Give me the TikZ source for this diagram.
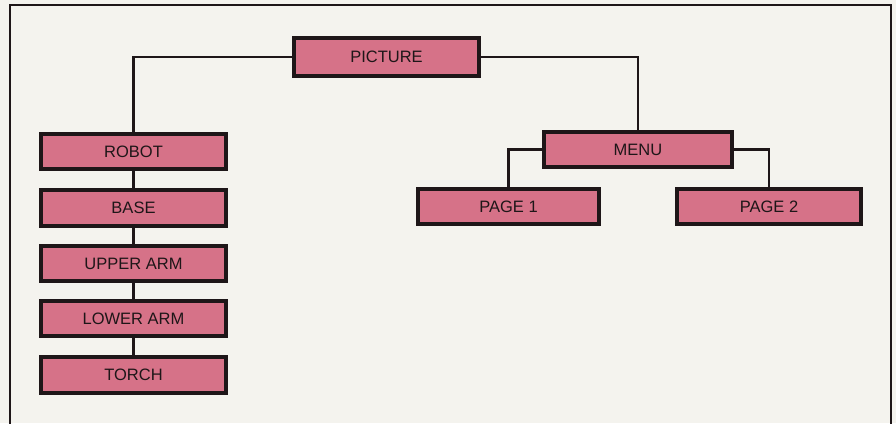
\documentclass[tikz,border=0pt]{standalone}
\usepackage{fontspec}
\setmainfont{Liberation Sans}
\definecolor{boxfill}{RGB}{214,114,136}
\definecolor{paper}{RGB}{244,243,238}
\definecolor{ink}{RGB}{30,22,24}
\begin{document}
\begin{tikzpicture}[x=1pt,y=-1pt,
  blk/.style={draw=ink,line width=3.4pt,fill=boxfill,inner sep=0pt,font=\fontsize{16.5}{19}\selectfont,text=ink},
  link/.style={draw=ink,line width=2.2pt}]
\fill[paper] (0,0) rectangle (896,423);
\useasboundingbox (0,0) rectangle (896,423);
\draw[ink,line width=1.2pt] (10,430) -- (10,5) -- (891,5) -- (891,430);
\newcommand\blkbox[6]{\node[blk,minimum width=#4-#2-2,minimum height=#5-#3-2] (#1) at ({(#2+#4)/2},{(#3+#5)/2}) {#6};}
\blkbox{picture}{293}{37}{480}{77}{PICTURE}
\blkbox{robot}{40}{133}{227}{170}{ROBOT}
\blkbox{base}{40}{189}{227}{227}{BASE}
\blkbox{upper}{40}{245}{227}{282}{UPPER ARM}
\blkbox{lower}{40}{300}{227}{337}{LOWER ARM}
\blkbox{torch}{40}{356}{227}{394}{TORCH}
\blkbox{menu}{543}{131}{733}{168}{MENU}
\blkbox{page1}{417}{188}{600}{225}{PAGE 1}
\blkbox{page2}{676}{188}{862}{225}{PAGE 2}
\draw[link] (picture.west) -| (robot.north);
\draw[link] (picture.east) -| (menu.north);
\draw[link] (robot.south) -- (base.north);
\draw[link] (base.south) -- (upper.north);
\draw[link] (upper.south) -- (lower.north);
\draw[link] (lower.south) -- (torch.north);
\draw[link] (menu.west) -| (page1.north);
\draw[link] (menu.east) -| (page2.north);
\end{tikzpicture}
\end{document}
